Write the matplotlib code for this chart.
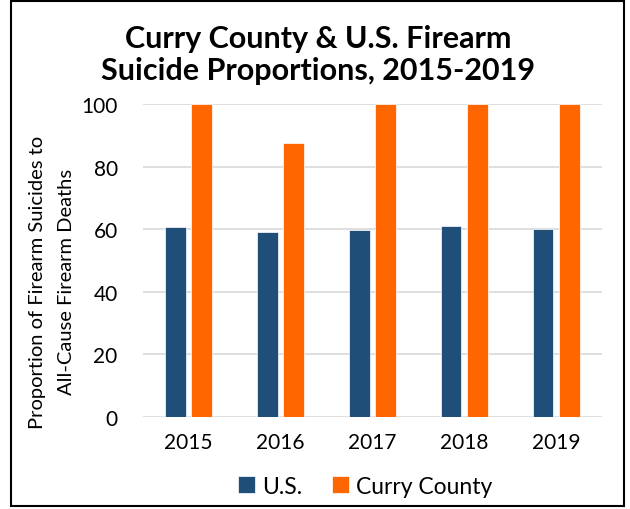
import numpy as np
import matplotlib.pyplot as plt
from matplotlib.patches import Rectangle

# chart values
years = ["2015", "2016", "2017", "2018", "2019"]
us_values = [60.6, 59.0, 59.8, 61.1, 60.1]
curry_values = [100, 87.4, 100, 100, 100]
y_ticks = [0, 20, 40, 60, 80, 100]

US_COLOR = "#1F4E79"
CURRY_COLOR = "#FF6600"
GRID_COLOR = "#D9D9D9"

plt.rcParams["font.family"] = ["Lato", "DejaVu Sans"]

fig = plt.figure(figsize=(6.3, 5.1), dpi=100)
ax = fig.add_axes([0.2265, 0.1804, 0.729, 0.6137])

x = np.arange(len(years))
width = 0.225
offset = 0.143
ax.bar(x - offset, us_values, width, color=US_COLOR, edgecolor="white",
       linewidth=0.5, label="U.S.", zorder=3)
ax.bar(x + offset, curry_values, width, color=CURRY_COLOR, edgecolor="white",
       linewidth=0.5, label="Curry County", zorder=3)

ax.set_xlim(-0.5, len(years) - 0.5)
ax.set_ylim(0, 100)
ax.set_yticks(y_ticks)
ax.set_xticks(x)
ax.set_xticklabels(years)
ax.tick_params(axis="both", length=0, labelsize=15, colors="black")
ax.tick_params(axis="y", pad=18)
ax.tick_params(axis="x", pad=11)
ax.grid(axis="y", color=GRID_COLOR, linewidth=1.2, zorder=0)
for s in ax.spines.values():
    s.set_visible(False)

fig.text(0.082, 0.447, "Proportion of Firearm Suicides to\nAll-Cause Firearm Deaths",
         rotation=90, ha="center", va="center", fontsize=14.5, linespacing=1.85)

fig.text(0.505, 0.892, "Curry County & U.S. Firearm\nSuicide Proportions, 2015-2019",
         ha="center", va="center", fontsize=22, fontweight="bold", linespacing=1.2)

fig.legend(loc="center", bbox_to_anchor=(0.58, 0.045), ncol=2, frameon=False,
           fontsize=16.5, handlelength=0.75, handleheight=0.75, handletextpad=0.3,
           columnspacing=1.3)

fig.patches.append(Rectangle((0.017, 0.006), 0.973, 0.99, transform=fig.transFigure,
                             fill=False, edgecolor="black", linewidth=1.5))

fig.savefig("out.png", dpi=100)
